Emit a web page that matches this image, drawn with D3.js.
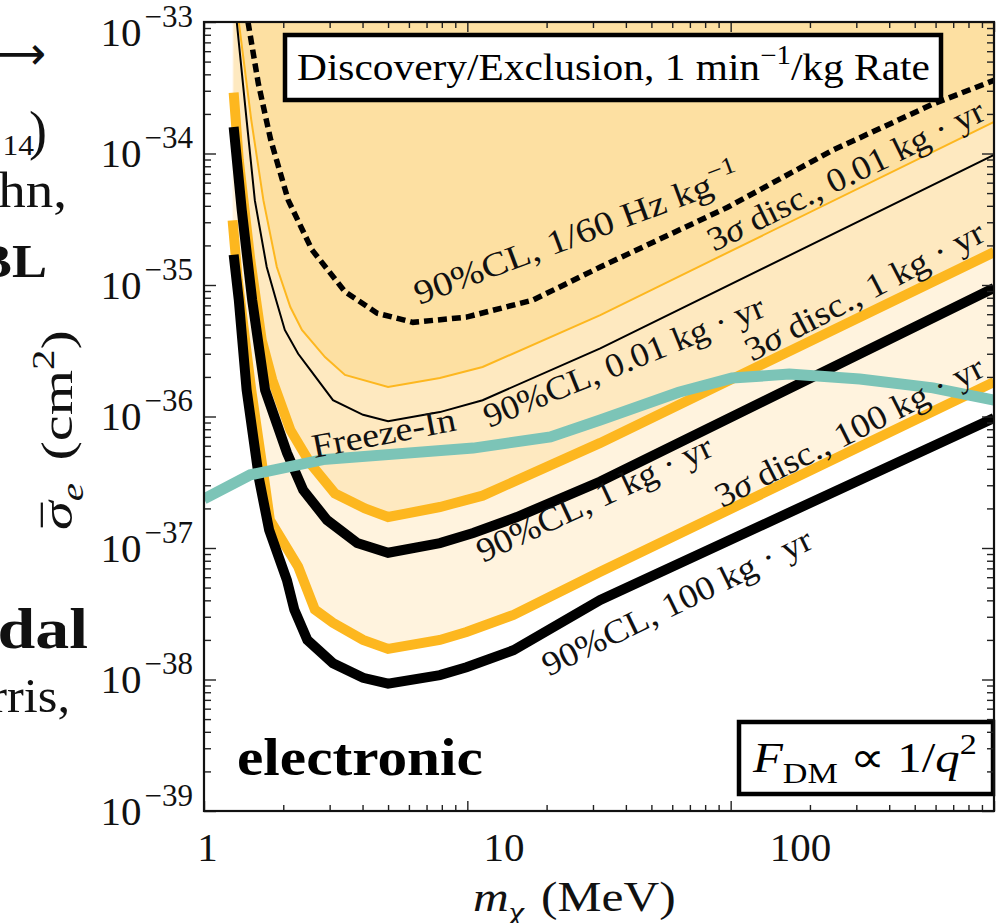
<!DOCTYPE html>
<html>
<head>
<meta charset="utf-8">
<script src="https://cdn.jsdelivr.net/npm/d3@7"></script>
<style>
  html, body { margin: 0; padding: 0; background: #fff; }
  svg { display: block; }
</style>
</head>
<body>
<svg id="chart" width="1004" height="923"></svg>
<script>
// ---- data: DM mass (MeV) and reference cross section sigma_e (cm^2) ----
const xLabelTicks = [1, 10, 100];
const yLabelExponents = [-33, -34, -35, -36, -37, -38, -39];

// 90% CL exclusion, 100 kg.yr
const cl100Mass  = [1.23, 1.28, 1.36, 1.50, 1.62, 1.86, 1.97, 2.18, 2.66, 3.36, 4.08, 6.1, 7.5, 10.8, 21.2, 451];
const cl100Sigma = [1.7e-35, 7.7e-36, 1.6e-36, 3.3e-37, 1.37e-37, 5.7e-38, 3.4e-38, 2.0e-38, 1.33e-38, 1.03e-38, 9.3e-39, 1.08e-38, 1.24e-38, 1.67e-38, 4.03e-38, 9.75e-37];

// 3 sigma discovery, 100 kg.yr
const disc100Mass  = [1.22, 1.27, 1.41, 1.56, 1.63, 2.03, 2.31, 2.66, 3.36, 4.08, 6.1, 7.5, 10.8, 21.2, 451];
const disc100Sigma = [3.1e-35, 1.09e-35, 1.59e-36, 3.3e-37, 1.63e-37, 7.2e-38, 3.4e-38, 2.7e-38, 2.0e-38, 1.71e-38, 2.0e-38, 2.3e-38, 3.1e-38, 6.6e-38, 1.83e-36];

// 90% CL exclusion, 1 kg.yr
const cl1Mass  = [1.23, 1.31, 1.42, 1.57, 1.86, 2.11, 2.54, 3.21, 4.08, 6.1, 7.9, 11.1, 21.2, 451];
const cl1Sigma = [1.59e-34, 3.7e-35, 7.7e-36, 1.59e-36, 5.3e-37, 2.76e-37, 1.63e-37, 1.09e-37, 9.2e-38, 1.09e-37, 1.3e-37, 1.72e-37, 3.2e-37, 9.5e-36];

// 3 sigma discovery, 1 kg.yr
const disc1Mass  = [1.23, 1.28, 1.40, 1.53, 1.66, 1.91, 2.23, 2.70, 3.41, 4.08, 6.1, 8.5, 21.2, 451];
const disc1Sigma = [2.9e-34, 8.9e-35, 1.55e-35, 3.8e-36, 1.9e-36, 7.9e-37, 4.4e-37, 2.6e-37, 2.0e-37, 1.72e-37, 2.05e-37, 2.5e-37, 6.3e-37, 1.78e-35];

// 90% CL exclusion, 0.01 kg.yr
const cl001Mass  = [1.26, 1.36, 1.45, 1.59, 1.71, 1.83, 2.03, 2.23, 2.66, 3.36, 4.08, 6.1, 8.5, 21.2, 451];
const cl001Sigma = [1e-33, 1.8e-34, 4.4e-35, 1.37e-35, 7.7e-36, 4.55e-36, 3.0e-36, 2.26e-36, 1.33e-36, 1.03e-36, 9.2e-37, 1.08e-36, 1.33e-36, 3.3e-36, 9.75e-35];

// 3 sigma discovery, 0.01 kg.yr
const disc001Mass  = [1.28, 1.41, 1.55, 1.72, 1.91, 2.09, 2.50, 2.92, 4.08, 6.1, 8.5, 21.2, 451];
const disc001Sigma = [1e-33, 1.8e-34, 4.4e-35, 1.37e-35, 6.8e-36, 4.55e-36, 2.83e-36, 2.07e-36, 1.68e-36, 1.96e-36, 2.38e-36, 5.9e-36, 1.74e-34];

// 90% CL for a 1/60 Hz/kg background rate
const rateMass  = [1.375, 1.49, 1.64, 1.88, 2.26, 2.92, 3.75, 4.95, 7.5, 12.6, 21.2, 57, 129, 281, 451];
const rateSigma = [1e-33, 3.4e-34, 1.27e-34, 4.4e-35, 1.85e-35, 8.9e-36, 6.1e-36, 5.2e-36, 5.7e-36, 7.7e-36, 1.37e-35, 3.9e-35, 1.06e-34, 2.38e-34, 3.6e-34];

// freeze-in target
const freezeMass  = [0.977, 1.4, 2.46, 7.9, 14.4, 21.2, 39, 59, 92, 159, 281, 451];
const freezeSigma = [2.36e-37, 3.6e-37, 4.7e-37, 5.75e-37, 7.0e-37, 9.4e-37, 1.53e-36, 1.96e-36, 2.1e-36, 1.93e-36, 1.65e-36, 1.33e-36];

// ---- layout ----
const W = 1004, H = 923;
const plot = { left: 204, right: 994, top: 22, bottom: 811 };
const serif = "'Liberation Serif', 'Times New Roman', serif";

const col = {
  orange: "#FDB71F",
  teal: "#7CC4B7",
  fillLight: "#FFF3DE",
  fillMid: "#FEE9C0",
  fillDark: "#FDE0A2"
};

const x = d3.scaleLog().domain([0.977, 451]).range([plot.left, plot.right]);
const y = d3.scaleLog().domain([1e-39, 1e-33]).range([plot.bottom, plot.top]);
// tick marks along the frame run on their own decade spacing
const xFrame = d3.scaleLog().domain([1, 1000]).range([plot.left, plot.right]);

const svg = d3.select("#chart").attr("font-family", serif);
svg.append("rect").attr("width", W).attr("height", H).attr("fill", "#fff");

svg.append("defs").append("clipPath").attr("id", "plotClip")
  .append("rect")
  .attr("x", plot.left).attr("y", plot.top)
  .attr("width", plot.right - plot.left).attr("height", plot.bottom - plot.top);

const pts = (ms, ss) => ms.map((m, i) => [m, ss[i]]);
const cl100 = pts(cl100Mass, cl100Sigma);
const disc100 = pts(disc100Mass, disc100Sigma);
const cl1 = pts(cl1Mass, cl1Sigma);
const disc1 = pts(disc1Mass, disc1Sigma);
const cl001 = pts(cl001Mass, cl001Sigma);
const disc001 = pts(disc001Mass, disc001Sigma);
const rate = pts(rateMass, rateSigma);
const freeze = pts(freezeMass, freezeSigma);

const line = d3.line().x(d => x(d[0])).y(d => y(d[1]));
const area = d3.area().x(d => x(d[0])).y0(plot.top - 10).y1(d => y(d[1]));

const g = svg.append("g").attr("clip-path", "url(#plotClip)");

// shaded discovery regions
g.append("path").attr("d", area(disc100)).attr("fill", col.fillLight);
g.append("path").attr("d", area(disc1)).attr("fill", col.fillMid);
g.append("path").attr("d", area(disc001)).attr("fill", col.fillDark);

function curve(data, color, width, dash) {
  const p = g.append("path").attr("d", line(data))
    .attr("fill", "none").attr("stroke", color).attr("stroke-width", width)
    .attr("stroke-linejoin", "miter").attr("stroke-miterlimit", 4);
  if (dash) p.attr("stroke-dasharray", dash);
  return p;
}
curve(disc100, col.orange, 10);
curve(cl100, "#000", 10);
curve(disc1, col.orange, 10);
curve(cl1, "#000", 10);
curve(disc001, col.orange, 2);
curve(cl001, "#000", 2);
curve(rate, "#000", 5.5, "9,5");
curve(freeze, col.teal, 11);

// ---- rich text helper (italic / sub / sup pieces) ----
function rich(text, parts, size) {
  let shift = 0;
  parts.forEach(p => {
    if (typeof p === "string") p = { t: p };
    const target = p.sup ? -0.42 * size : p.sub ? 0.25 * size : 0;
    const ts = text.append("tspan").text(p.t);
    if (target - shift !== 0) ts.attr("dy", target - shift);
    shift = target;
    ts.attr("font-size", (p.sup || p.sub) ? (p.size || 0.7 * size) : (p.size || size));
    if (p.it) ts.attr("font-style", "italic");
    if (p.bold) ts.attr("font-weight", "bold");
    if (p.dx) ts.attr("dx", p.dx);
  });
  return text;
}

// ---- curve labels (anchored in data coordinates) ----
const curveLabels = [
  { parts: ["90%CL, 1/60 Hz kg", { t: "−1", sup: true }], at: [5.19, 7.05e-36], angle: -20.5, len: 345 },
  { parts: ["3", { t: "σ", it: true }, " disc., 0.01 kg · yr"], at: [51.3, 1.78e-35], angle: -26, len: 304 },
  { parts: ["90%CL, 0.01 kg · yr"], at: [8.93, 8.18e-37], angle: -22, len: 300 },
  { parts: ["3", { t: "σ", it: true }, " disc., 1 kg · yr"], at: [68.9, 2.6e-36], angle: -27.4, len: 265 },
  { parts: ["Freeze-In"], at: [2.30, 4.83e-37], angle: -11, len: 146 },
  { parts: ["90%CL, 1 kg · yr"], at: [8.53, 7.69e-38], angle: -25, len: 256 },
  { parts: ["3", { t: "σ", it: true }, " disc., 100 kg · yr"], at: [54.6, 2.01e-37], angle: -26.7, len: 296 },
  { parts: ["90%CL, 100 kg · yr"], at: [14.2, 1.05e-38], angle: -25.9, len: 296 }
];
const labelLayer = svg.append("g");
curveLabels.forEach(l => {
  const t = rich(labelLayer.append("text").attr("fill", "#111"), l.parts, 34);
  const w = t.node().getComputedTextLength();
  t.attr("transform", `translate(${x(l.at[0])},${y(l.at[1])}) rotate(${l.angle}) scale(${l.len / w},1)`);
});

// fits a text element to a given width from its start point
function fitAt(t, x0, y0, width) {
  const w = t.node().getComputedTextLength();
  t.attr("transform", `translate(${x0},${y0}) scale(${width / w},1)`);
  return t;
}

// ---- boxed annotations ----
svg.append("rect").attr("x", 285).attr("y", 35).attr("width", 656).attr("height", 65)
  .attr("fill", "#fff").attr("stroke", "#000").attr("stroke-width", 4.5);
fitAt(rich(svg.append("text"), ["Discovery/Exclusion, 1 min", { t: "−1", sup: true }, "/kg Rate"], 38), 297, 80, 633);

svg.append("rect").attr("x", 739).attr("y", 722).attr("width", 254).attr("height", 72)
  .attr("fill", "#fff").attr("stroke", "#000").attr("stroke-width", 4.5);
fitAt(rich(svg.append("text"), [{ t: "F", it: true }, { t: "DM", sub: true }, " ∝ 1/", { t: "q", it: true }, { t: "2", sup: true }], 43), 753, 772, 224);

fitAt(svg.append("text").attr("font-size", 52).attr("font-weight", "bold").text("electronic"), 237, 775, 246);

// ---- frame ticks ----
const minorX = [], minorY = [];
for (let d = 0; d < 3; d++) for (let k = 2; k <= 9; k++) minorX.push(k * Math.pow(10, d));
for (let e = -39; e < -33; e++) for (let k = 2; k <= 9; k++) minorY.push(k * Math.pow(10, e));
const majorX = [1, 10, 100, 1000];
const majorY = yLabelExponents.map(e => Math.pow(10, e));

function ticks(axis, tr, values, len) {
  const a = svg.append("g").attr("transform", tr)
    .call(axis.tickValues(values).tickSize(-len).tickFormat(""));
  a.select(".domain").remove();
  a.selectAll(".tick line").attr("stroke", "#222").attr("stroke-width", 1.4);
}
ticks(d3.axisBottom(xFrame), `translate(0,${plot.bottom})`, minorX, 6);
ticks(d3.axisBottom(xFrame), `translate(0,${plot.bottom})`, majorX, 10);
ticks(d3.axisTop(xFrame), `translate(0,${plot.top})`, minorX, 6);
ticks(d3.axisTop(xFrame), `translate(0,${plot.top})`, majorX, 10);
ticks(d3.axisLeft(y), `translate(${plot.left},0)`, minorY, 7);
ticks(d3.axisLeft(y), `translate(${plot.left},0)`, majorY, 12);
ticks(d3.axisRight(y), `translate(${plot.right},0)`, minorY, 7);
ticks(d3.axisRight(y), `translate(${plot.right},0)`, majorY, 12);

svg.append("rect").attr("x", plot.left).attr("y", plot.top)
  .attr("width", plot.right - plot.left).attr("height", plot.bottom - plot.top)
  .attr("fill", "none").attr("stroke", "#111").attr("stroke-width", 2.2);

// ---- tick labels ----
const xLab = svg.append("g").attr("transform", `translate(0,${plot.bottom})`)
  .call(d3.axisBottom(x).tickValues(xLabelTicks).tickSize(0).tickPadding(21).tickFormat(d3.format("d")));
xLab.select(".domain").remove();
xLab.attr("font-family", serif).attr("font-size", 41);
xLab.selectAll("text").attr("fill", "#111");

const yLab = svg.append("g").attr("transform", `translate(${plot.left},0)`)
  .call(d3.axisLeft(y).tickValues(majorY).tickSize(0).tickPadding(11).tickFormat(""));
yLab.select(".domain").remove();
yLab.attr("font-family", serif).attr("font-size", 41);
yLab.selectAll(".tick text").each(function (d) {
  const t = d3.select(this).attr("fill", "#111");
  const e = Math.round(Math.log10(d));
  t.append("tspan").text("10");
  t.append("tspan").attr("font-size", 31).attr("dx", 3).attr("dy", -19).text("−" + (-e));
  if (y(d) < plot.top + 8) t.attr("transform", "translate(0,10)");
});

// ---- axis titles ----
const xt = svg.append("text").attr("fill", "#111");
rich(xt, [{ t: "m", it: true }, { t: "χ", it: true, sub: true }, { t: " (MeV)", dx: 4 }], 42);
fitAt(xt, 473, 911, 198);

const yTitle = svg.append("g").attr("transform", "translate(72,530) rotate(-90)");
const yt = yTitle.append("text").attr("fill", "#111");
rich(yt, [{ t: "σ", it: true }, { t: "e", it: true, sub: true }, { t: " (cm", dx: 6 }, { t: "2", sup: true }, ")"], 44);
fitAt(yt, 0, 0, 192);
// bar over sigma
const ext = yt.node().getExtentOfChar(0);
const sx = 192 / yt.node().getComputedTextLength();
yTitle.append("line")
  .attr("x1", (ext.x + 2) * sx).attr("x2", (ext.x + ext.width - 1) * sx)
  .attr("y1", ext.y + 9).attr("y2", ext.y + 9)
  .attr("stroke", "#111").attr("stroke-width", 2.2);

// ---- neighbouring slide text, cut at the page edge ----
const side = svg.append("g").attr("fill", "#111").attr("text-anchor", "end");
function sideText(txt, xEnd, yBase, size, sxScale, bold, family) {
  const t = side.append("text").attr("font-size", size).text(txt)
    .attr("transform", `translate(${xEnd},${yBase}) scale(${sxScale},1)`);
  if (bold) t.attr("font-weight", "bold");
  if (family) t.attr("font-family", family);
  return t;
}
sideText("⟶", 46, 69, 46, 1, false, "'DejaVu Sans', sans-serif");
sideText("14", 34, 155, 30, 1.05);
sideText(")", 47, 149, 54, 1);
sideText("hn,", 67, 207, 50, 1.1);
sideText("BL", 47, 277, 47, 1.12, true);
sideText("dal", 88, 648, 58, 1.17, true);
sideText("rris,", 70, 712, 48, 1.05);
</script>
</body>
</html>
